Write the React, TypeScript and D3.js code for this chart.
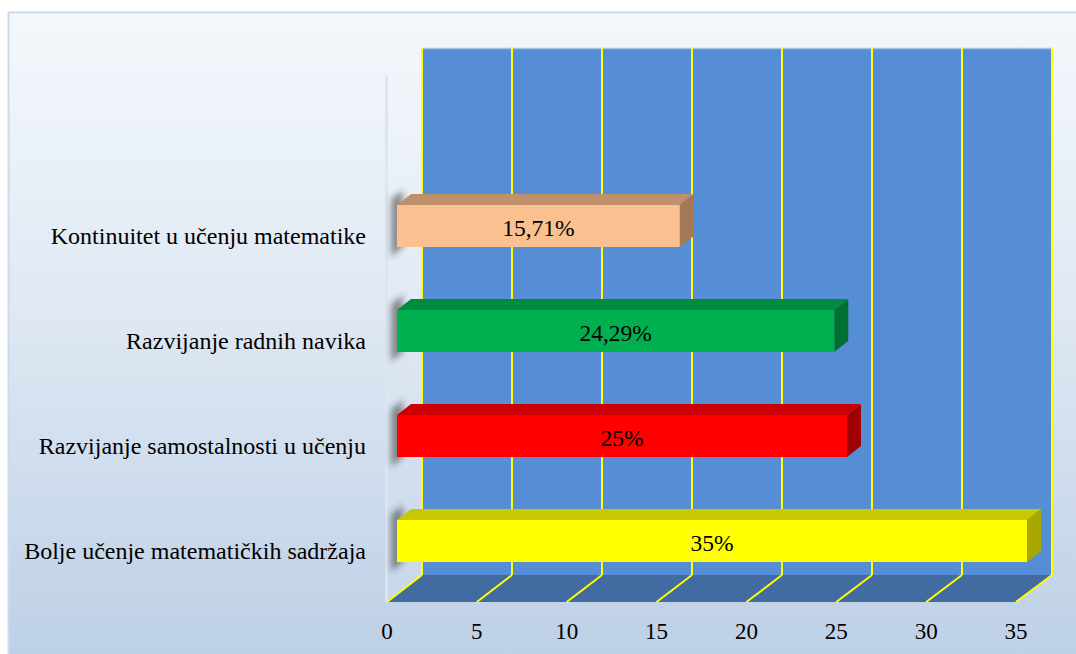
import React from "react";
import * as d3 from "d3";

const categories = [
  "Kontinuitet u učenju matematike",
  "Razvijanje radnih navika",
  "Razvijanje samostalnosti u učenju",
  "Bolje učenje matematičkih sadržaja",
];
const values = [15.71, 24.29, 25, 35];
const valueLabels = ["15,71%", "24,29%", "25%", "35%"];
const ticks = [0, 5, 10, 15, 20, 25, 30, 35];
const frontColors = ["#fac090", "#00b050", "#ff0000", "#ffff00"];
const topColors = ["#c0906c", "#008c40", "#cc0000", "#c8c800"];
const sideColors = ["#a47a56", "#007032", "#a00000", "#a8a800"];

const W = 1076;
const H = 654;
const FONT = "'Liberation Serif', 'Times New Roman', serif";

export default function App() {
  const xBack = d3.scaleLinear().domain([0, 35]).range([422, 1052]);
  const xFront = d3.scaleLinear().domain([0, 35]).range([387, 1016]);
  const xBar = d3.scaleLinear().domain([0, 35]).range([397, 1027]);
  const y = d3.scaleBand<string>().domain(categories).range([170, 590]).paddingInner(0);
  const wallTop = 48;
  const wallBottom = 575;
  const floorFront = 602;
  const faceOff = 35;
  const faceH = 42;
  const ddx = 14;
  const ddy = -11;

  const pts = (a: number[][]) => a.map((p) => p.join(",")).join(" ");

  return (
    <svg width={W} height={H} style={{ position: "absolute", left: 0, top: 0 }}>
      <defs>
        <linearGradient id="bg" x1="0" y1="0" x2="0" y2="1">
          <stop offset="0" stopColor="#f4f8fc" />
          <stop offset="0.45" stopColor="#dfe8f3" />
          <stop offset="1" stopColor="#bccfe6" />
        </linearGradient>
        <filter id="blur" x="-50%" y="-50%" width="200%" height="200%">
          <feGaussianBlur stdDeviation="3" />
        </filter>
      </defs>
      <rect x={0} y={0} width={W} height={H} fill="#ffffff" />
      <rect x={8.5} y={12.5} width={1080} height={660} fill="url(#bg)" stroke="#c9dbef" strokeWidth={2} />

      {/* left wall */}
      <polygon
        points={pts([
          [387, wallTop + 27],
          [xBack(0), wallTop],
          [xBack(0), wallBottom],
          [387, floorFront],
        ])}
        fill="#ffffff"
        fillOpacity={0.08}
      />
      <line x1={386.5} y1={wallTop + 27} x2={386.5} y2={floorFront} stroke="#dbe6f3" strokeWidth={3} />

      {/* back wall */}
      <rect x={xBack(0)} y={wallTop} width={xBack(35) - xBack(0)} height={wallBottom - wallTop} fill="#558ed5" />
      <line x1={xBack(0)} y1={wallTop + 0.5} x2={xBack(35)} y2={wallTop + 0.5} stroke="#a9c0de" strokeWidth={1.5} />

      {/* floor */}
      <polygon
        points={pts([
          [xBack(0), wallBottom],
          [xBack(35), wallBottom],
          [xFront(35), floorFront],
          [xFront(0), floorFront],
        ])}
        fill="#416ba1"
      />

      {/* gridlines */}
      {ticks.map((t) => (
        <g key={t}>
          <line x1={xBack(t)} y1={wallTop} x2={xBack(t)} y2={wallBottom} stroke="#ffff00" strokeWidth={2} />
          <line x1={xBack(t)} y1={wallBottom} x2={xFront(t)} y2={floorFront} stroke="#ffff00" strokeWidth={2} />
        </g>
      ))}

      {/* bars */}
      {categories.map((c, i) => {
        const top = (y(c) as number) + faceOff;
        const bottom = top + faceH;
        const x0 = xBar(0);
        const x1 = xBar(values[i]);
        return (
          <g key={c}>
            <polygon
              points={pts([
                [x0 - 6, top - 6],
                [x0 + 6, top - 15],
                [x0 + 6, bottom],
                [x0 - 6, bottom + 10],
              ])}
              fill="#3a3a3a"
              fillOpacity={0.55}
              filter="url(#blur)"
            />
            <polygon
              points={pts([
                [x0, top],
                [x0 + ddx, top + ddy],
                [x1 + ddx, top + ddy],
                [x1, top],
              ])}
              fill={topColors[i]}
            />
            <polygon
              points={pts([
                [x1, top],
                [x1 + ddx, top + ddy],
                [x1 + ddx, bottom + ddy],
                [x1, bottom],
              ])}
              fill={sideColors[i]}
            />
            <rect x={x0} y={top} width={x1 - x0} height={faceH} fill={frontColors[i]} />
            <text
              x={(x0 + x1) / 2}
              y={top + faceH / 2 + 2}
              textAnchor="middle"
              dominantBaseline="central"
              fontFamily={FONT}
              fontSize={23.5}
              fill="#000"
            >
              {valueLabels[i]}
            </text>
            <text
              x={366}
              y={top + faceH / 2 + 10}
              textAnchor="end"
              dominantBaseline="central"
              fontFamily={FONT}
              fontSize={24}
              fill="#000"
            >
              {c}
            </text>
          </g>
        );
      })}

      {/* axis tick labels */}
      {ticks.map((t) => (
        <text
          key={t}
          x={xFront(t)}
          y={631}
          textAnchor="middle"
          dominantBaseline="central"
          fontFamily={FONT}
          fontSize={23}
          fill="#000"
        >
          {t}
        </text>
      ))}
    </svg>
  );
}
